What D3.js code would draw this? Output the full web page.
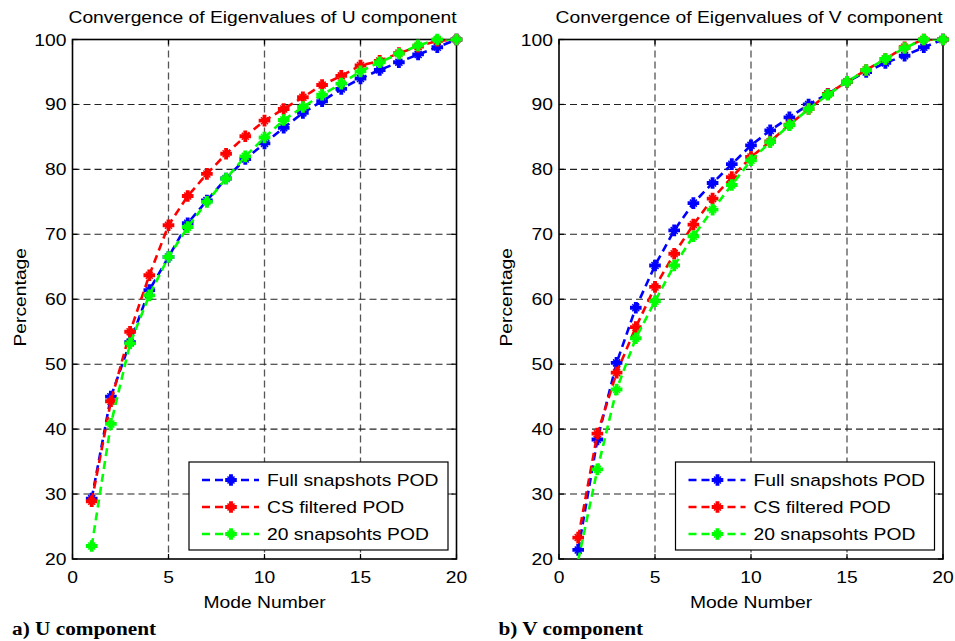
<!DOCTYPE html>
<html>
<head>
<meta charset="utf-8">
<script src="https://cdn.jsdelivr.net/npm/d3@7"></script>
<style>
  body { margin: 0; background: #fff; }
  svg { display: block; }
  text { font-family: "Liberation Sans", Arial, sans-serif; fill: #000; }
</style>
</head>
<body>
<svg width="955" height="641"></svg>
<script>

// Mode numbers on the x axis
const modes = [1, 2, 3, 4, 5, 6, 7, 8, 9, 10, 11, 12, 13, 14, 15, 16, 17, 18, 19, 20];

// U component (percentage)
const u_full = [29.3, 45.0, 53.4, 61.4, 66.5, 71.7, 75.2, 78.6, 81.6, 84.0, 86.4, 88.7, 90.5, 92.4, 94.0, 95.3, 96.5, 97.7, 98.8, 100];
const u_cs = [28.9, 44.3, 55.0, 63.7, 71.4, 75.9, 79.3, 82.4, 85.1, 87.5, 89.3, 91.1, 93.0, 94.4, 96.0, 96.7, 97.9, 98.9, 99.8, 100];
const u_snap20 = [22.0, 40.8, 53.2, 60.6, 66.5, 71.1, 75.0, 78.6, 82.0, 84.9, 87.6, 89.6, 91.5, 93.2, 95.1, 96.5, 97.8, 99.1, 100, 100];

// V component (percentage)
const v_full = [21.4, 38.4, 50.2, 58.7, 65.2, 70.6, 74.8, 77.9, 80.8, 83.7, 86.0, 88.0, 90.0, 91.6, 93.5, 95.0, 96.4, 97.5, 98.8, 100];
const v_cs = [23.3, 39.3, 48.7, 55.7, 61.9, 67.0, 71.5, 75.5, 78.8, 81.9, 84.3, 86.9, 89.3, 91.6, 93.5, 95.3, 97.0, 98.8, 100, 100];
const v_snap20 = [19.8, 33.8, 46.1, 54.0, 59.7, 65.2, 69.7, 73.8, 77.6, 81.4, 84.2, 86.8, 89.3, 91.5, 93.5, 95.3, 97.0, 98.7, 100, 100];

const series_names = ["Full snapshots POD", "CS filtered POD", "20 snapsohts POD"];
const series_colors = ["#0000ff", "#ff0000", "#00ff00"];

const x_ticks = [0, 5, 10, 15, 20];
const y_ticks = [20, 30, 40, 50, 60, 70, 80, 90, 100];

const panels = [
    { title: "Convergence of Eigenvalues of U component", caption: "a) U component", left: 72.5, values: [u_full, u_cs, u_snap20] },
    { title: "Convergence of Eigenvalues of V component", caption: "b) V component", left: 559, values: [v_full, v_cs, v_snap20] }
];

const svg = d3.select("svg");

const top_y = 39.5;
const plot_w = 384;
const plot_h = 519.5;
const sx = 1.17; // text in the original is wider than Arial

// text helper: stretched horizontally along reading direction
function label(g, str, x, y, opts = {}) {
    const rot = opts.rotate ? ` rotate(${opts.rotate})` : "";
    const k = opts.scale || sx;
    return g.append("text")
        .attr("transform", `translate(${x},${y})${rot} scale(${k},1)`)
        .attr("text-anchor", opts.anchor || "middle")
        .style("font-size", (opts.size || 16.5) + "px")
        .style("font-weight", opts.weight || "normal")
        .style("font-family", opts.family || null)
        .text(str);
}

function marker(g, cx, cy, color) {
    g.append("path")
        .attr("d", d3.symbol().type(d3.symbolCross).size(75)())
        .attr("transform", `translate(${cx},${cy})`)
        .attr("fill", color);
    g.append("path")
        .attr("d", "M-3.5,-3.5L3.5,3.5M-3.5,3.5L3.5,-3.5")
        .attr("transform", `translate(${cx},${cy})`)
        .attr("stroke", color)
        .attr("stroke-width", 1.5);
}

panels.forEach((p, pi) => {

    const g = svg.append("g").attr("transform", `translate(${p.left},${top_y})`);

    const x = d3.scaleLinear().domain([0, 20]).range([0, plot_w]);
    const y = d3.scaleLinear().domain([20, 100]).range([plot_h, 0]);

    // grid
    g.append("g")
        .selectAll("line")
        .data(x_ticks.slice(1, -1))
        .join("line")
        .attr("x1", d => x(d)).attr("x2", d => x(d))
        .attr("y1", 0).attr("y2", plot_h)
        .attr("stroke", "#555")
        .attr("stroke-width", 1.3)
        .attr("stroke-dasharray", "7,4");

    g.append("g")
        .selectAll("line")
        .data(y_ticks.slice(1, -1))
        .join("line")
        .attr("x1", 0).attr("x2", plot_w)
        .attr("y1", d => y(d)).attr("y2", d => y(d))
        .attr("stroke", "#222")
        .attr("stroke-width", 1.1)
        .attr("stroke-dasharray", "7,4");

    // inward ticks on all sides
    const ticks = g.append("g").attr("stroke", "#000").attr("stroke-width", 1.2);
    x_ticks.forEach(t => {
        ticks.append("line").attr("x1", x(t)).attr("x2", x(t)).attr("y1", plot_h).attr("y2", plot_h - 5);
        ticks.append("line").attr("x1", x(t)).attr("x2", x(t)).attr("y1", 0).attr("y2", 5);
    });
    y_ticks.forEach(t => {
        ticks.append("line").attr("x1", 0).attr("x2", 5).attr("y1", y(t)).attr("y2", y(t));
        ticks.append("line").attr("x1", plot_w).attr("x2", plot_w - 5).attr("y1", y(t)).attr("y2", y(t));
    });

    // frame
    g.append("rect")
        .attr("x", 0).attr("y", 0)
        .attr("width", plot_w).attr("height", plot_h)
        .attr("fill", "none")
        .attr("stroke", "#000")
        .attr("stroke-width", 1.6);

    // clip for the lines only
    const clip_id = "clip" + pi;
    g.append("clipPath").attr("id", clip_id)
        .append("rect").attr("x", 0).attr("y", 0).attr("width", plot_w).attr("height", plot_h);

    const line = d3.line()
        .x((d, i) => x(modes[i]))
        .y(d => y(d));

    p.values.forEach((vals, si) => {
        g.append("path")
            .attr("clip-path", `url(#${clip_id})`)
            .attr("d", line(vals))
            .attr("fill", "none")
            .attr("stroke", series_colors[si])
            .attr("stroke-width", 2.6)
            .attr("stroke-dasharray", "8,5");
        vals.forEach((v, i) => {
            if (v >= 20) marker(g, x(modes[i]), y(v), series_colors[si]);
        });
    });

    // tick labels
    x_ticks.forEach(t => label(g, String(t), x(t), plot_h + 24));
    y_ticks.forEach(t => label(g, String(t), -6, y(t) + 6, { anchor: "end" }));

    // titles
    label(g, p.title, plot_w / 2 - 2, -17);
    label(g, "Mode Number", plot_w / 2, plot_h + 49);
    label(g, "Percentage", -47, plot_h / 2 - 2, { rotate: -90 });

    // legend
    const lg = g.append("g").attr("transform", `translate(${plot_w - 267.5},${plot_h - 97})`);
    lg.append("rect")
        .attr("width", 259).attr("height", 88)
        .attr("fill", "#fff")
        .attr("stroke", "#000")
        .attr("stroke-width", 1.2);

    series_names.forEach((name, si) => {
        const ry = 18 + si * 27;
        lg.append("line")
            .attr("x1", 13).attr("x2", 70)
            .attr("y1", ry).attr("y2", ry)
            .attr("stroke", series_colors[si])
            .attr("stroke-width", 2.6)
            .attr("stroke-dasharray", "8,5");
        marker(lg, 42, ry, series_colors[si]);
        label(lg, name, 78, ry + 6, { anchor: "start" });
    });

    // caption
    label(svg, p.caption, p.left - 60.5, 635,
        { anchor: "start", size: 19, weight: "bold", scale: 1.12, family: "'Liberation Serif', 'Times New Roman', serif" });
});

</script>
</body>
</html>
